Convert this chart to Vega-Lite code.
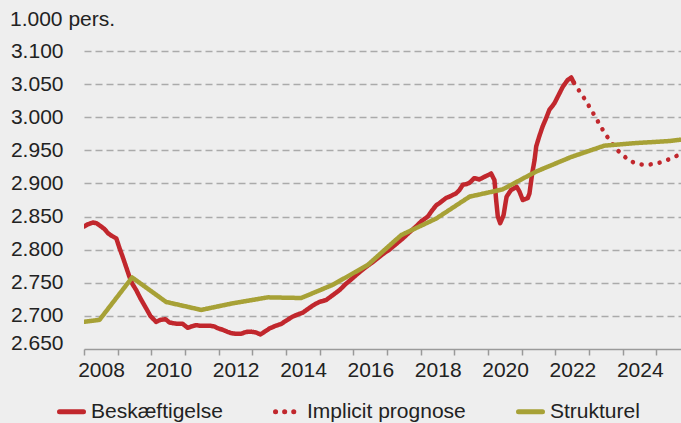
{
  "$schema": "https://vega.github.io/schema/vega-lite/v6.json",
  "width": 597,
  "height": 298,
  "autosize": {"type": "none"},
  "padding": {"left": 84, "top": 51, "right": 0, "bottom": 74},
  "background": "#eeeeee",
  "title": {"text": "1.000 pers.", "anchor": "start", "frame": "group", "dx": -74, "dy": 30, "offset": 23, "fontSize": 21, "fontWeight": "normal", "font": "Liberation Sans", "color": "#222222", "baseline": "alphabetic"},
  "config": {
    "view": {"stroke": null},
    "font": "Liberation Sans",
    "legend": {
      "orient": "none", "direction": "horizontal", "legendX": -27, "legendY": 346,
      "title": null, "symbolType": "stroke", "symbolSize": 576, "symbolStrokeWidth": 5,
      "labelFontSize": 21, "labelFont": "Liberation Sans", "labelColor": "#222222",
      "labelOffset": 5, "columnPadding": 42, "labelLimit": 300
    }
  },
  "data": {"values": [
    {"year": 2008.00, "value": 2835, "series": "Beskæftigelse"},
    {"year": 2008.10, "value": 2838, "series": "Beskæftigelse"},
    {"year": 2008.26, "value": 2841, "series": "Beskæftigelse"},
    {"year": 2008.37, "value": 2840, "series": "Beskæftigelse"},
    {"year": 2008.51, "value": 2835, "series": "Beskæftigelse"},
    {"year": 2008.61, "value": 2831, "series": "Beskæftigelse"},
    {"year": 2008.71, "value": 2825, "series": "Beskæftigelse"},
    {"year": 2008.82, "value": 2821, "series": "Beskæftigelse"},
    {"year": 2008.96, "value": 2817, "series": "Beskæftigelse"},
    {"year": 2009.05, "value": 2803, "series": "Beskæftigelse"},
    {"year": 2009.15, "value": 2789, "series": "Beskæftigelse"},
    {"year": 2009.25, "value": 2774, "series": "Beskæftigelse"},
    {"year": 2009.35, "value": 2759, "series": "Beskæftigelse"},
    {"year": 2009.44, "value": 2748, "series": "Beskæftigelse"},
    {"year": 2009.55, "value": 2739, "series": "Beskæftigelse"},
    {"year": 2009.68, "value": 2726, "series": "Beskæftigelse"},
    {"year": 2009.85, "value": 2711, "series": "Beskæftigelse"},
    {"year": 2009.97, "value": 2700, "series": "Beskæftigelse"},
    {"year": 2010.14, "value": 2691, "series": "Beskæftigelse"},
    {"year": 2010.27, "value": 2694, "series": "Beskæftigelse"},
    {"year": 2010.42, "value": 2695, "series": "Beskæftigelse"},
    {"year": 2010.54, "value": 2690, "series": "Beskæftigelse"},
    {"year": 2010.64, "value": 2689, "series": "Beskæftigelse"},
    {"year": 2010.78, "value": 2688, "series": "Beskæftigelse"},
    {"year": 2010.93, "value": 2688, "series": "Beskæftigelse"},
    {"year": 2011.08, "value": 2682, "series": "Beskæftigelse"},
    {"year": 2011.19, "value": 2684, "series": "Beskæftigelse"},
    {"year": 2011.33, "value": 2686, "series": "Beskæftigelse"},
    {"year": 2011.46, "value": 2685, "series": "Beskæftigelse"},
    {"year": 2011.63, "value": 2685, "series": "Beskæftigelse"},
    {"year": 2011.76, "value": 2685, "series": "Beskæftigelse"},
    {"year": 2011.87, "value": 2684, "series": "Beskæftigelse"},
    {"year": 2011.99, "value": 2681, "series": "Beskæftigelse"},
    {"year": 2012.12, "value": 2679, "series": "Beskæftigelse"},
    {"year": 2012.26, "value": 2676, "series": "Beskæftigelse"},
    {"year": 2012.37, "value": 2674, "series": "Beskæftigelse"},
    {"year": 2012.50, "value": 2673, "series": "Beskæftigelse"},
    {"year": 2012.67, "value": 2673, "series": "Beskæftigelse"},
    {"year": 2012.77, "value": 2675, "series": "Beskæftigelse"},
    {"year": 2012.86, "value": 2676, "series": "Beskæftigelse"},
    {"year": 2012.97, "value": 2676, "series": "Beskæftigelse"},
    {"year": 2013.11, "value": 2675, "series": "Beskæftigelse"},
    {"year": 2013.24, "value": 2672, "series": "Beskæftigelse"},
    {"year": 2013.36, "value": 2676, "series": "Beskæftigelse"},
    {"year": 2013.51, "value": 2681, "series": "Beskæftigelse"},
    {"year": 2013.69, "value": 2685, "series": "Beskæftigelse"},
    {"year": 2013.86, "value": 2688, "series": "Beskæftigelse"},
    {"year": 2014.01, "value": 2693, "series": "Beskæftigelse"},
    {"year": 2014.20, "value": 2699, "series": "Beskæftigelse"},
    {"year": 2014.34, "value": 2702, "series": "Beskæftigelse"},
    {"year": 2014.50, "value": 2705, "series": "Beskæftigelse"},
    {"year": 2014.61, "value": 2709, "series": "Beskæftigelse"},
    {"year": 2014.75, "value": 2714, "series": "Beskæftigelse"},
    {"year": 2014.87, "value": 2718, "series": "Beskæftigelse"},
    {"year": 2014.99, "value": 2721, "series": "Beskæftigelse"},
    {"year": 2015.19, "value": 2724, "series": "Beskæftigelse"},
    {"year": 2015.38, "value": 2731, "series": "Beskæftigelse"},
    {"year": 2015.59, "value": 2739, "series": "Beskæftigelse"},
    {"year": 2015.77, "value": 2748, "series": "Beskæftigelse"},
    {"year": 2015.98, "value": 2757, "series": "Beskæftigelse"},
    {"year": 2016.18, "value": 2766, "series": "Beskæftigelse"},
    {"year": 2016.38, "value": 2774, "series": "Beskæftigelse"},
    {"year": 2016.57, "value": 2781, "series": "Beskæftigelse"},
    {"year": 2016.77, "value": 2789, "series": "Beskæftigelse"},
    {"year": 2016.92, "value": 2795, "series": "Beskæftigelse"},
    {"year": 2017.07, "value": 2800, "series": "Beskæftigelse"},
    {"year": 2017.28, "value": 2809, "series": "Beskæftigelse"},
    {"year": 2017.47, "value": 2817, "series": "Beskæftigelse"},
    {"year": 2017.66, "value": 2826, "series": "Beskæftigelse"},
    {"year": 2017.86, "value": 2835, "series": "Beskæftigelse"},
    {"year": 2018.02, "value": 2843, "series": "Beskæftigelse"},
    {"year": 2018.21, "value": 2850, "series": "Beskæftigelse"},
    {"year": 2018.35, "value": 2860, "series": "Beskæftigelse"},
    {"year": 2018.46, "value": 2867, "series": "Beskæftigelse"},
    {"year": 2018.55, "value": 2870, "series": "Beskæftigelse"},
    {"year": 2018.75, "value": 2878, "series": "Beskæftigelse"},
    {"year": 2018.85, "value": 2880, "series": "Beskæftigelse"},
    {"year": 2019.05, "value": 2885, "series": "Beskæftigelse"},
    {"year": 2019.15, "value": 2890, "series": "Beskæftigelse"},
    {"year": 2019.25, "value": 2898, "series": "Beskæftigelse"},
    {"year": 2019.36, "value": 2899, "series": "Beskæftigelse"},
    {"year": 2019.45, "value": 2901, "series": "Beskæftigelse"},
    {"year": 2019.59, "value": 2908, "series": "Beskæftigelse"},
    {"year": 2019.74, "value": 2906, "series": "Beskæftigelse"},
    {"year": 2019.89, "value": 2910, "series": "Beskæftigelse"},
    {"year": 2019.98, "value": 2912, "series": "Beskæftigelse"},
    {"year": 2020.09, "value": 2915, "series": "Beskæftigelse"},
    {"year": 2020.19, "value": 2905, "series": "Beskæftigelse"},
    {"year": 2020.24, "value": 2875, "series": "Beskæftigelse"},
    {"year": 2020.29, "value": 2850, "series": "Beskæftigelse"},
    {"year": 2020.36, "value": 2840, "series": "Beskæftigelse"},
    {"year": 2020.46, "value": 2852, "series": "Beskæftigelse"},
    {"year": 2020.55, "value": 2880, "series": "Beskæftigelse"},
    {"year": 2020.68, "value": 2890, "series": "Beskæftigelse"},
    {"year": 2020.85, "value": 2895, "series": "Beskæftigelse"},
    {"year": 2020.93, "value": 2888, "series": "Beskæftigelse"},
    {"year": 2021.03, "value": 2875, "series": "Beskæftigelse"},
    {"year": 2021.18, "value": 2878, "series": "Beskæftigelse"},
    {"year": 2021.23, "value": 2885, "series": "Beskæftigelse"},
    {"year": 2021.31, "value": 2915, "series": "Beskæftigelse"},
    {"year": 2021.38, "value": 2935, "series": "Beskæftigelse"},
    {"year": 2021.43, "value": 2956, "series": "Beskæftigelse"},
    {"year": 2021.52, "value": 2971, "series": "Beskæftigelse"},
    {"year": 2021.62, "value": 2986, "series": "Beskæftigelse"},
    {"year": 2021.72, "value": 2998, "series": "Beskæftigelse"},
    {"year": 2021.82, "value": 3011, "series": "Beskæftigelse"},
    {"year": 2021.97, "value": 3021, "series": "Beskæftigelse"},
    {"year": 2022.12, "value": 3036, "series": "Beskæftigelse"},
    {"year": 2022.22, "value": 3046, "series": "Beskæftigelse"},
    {"year": 2022.36, "value": 3056, "series": "Beskæftigelse"},
    {"year": 2022.47, "value": 3060, "series": "Beskæftigelse"},
    {"year": 2022.55, "value": 3052, "series": "Beskæftigelse"},
    {"year": 2022.55, "value": 3052, "series": "Implicit prognose"},
    {"year": 2022.73, "value": 3038, "series": "Implicit prognose"},
    {"year": 2022.89, "value": 3026, "series": "Implicit prognose"},
    {"year": 2023.18, "value": 3001, "series": "Implicit prognose"},
    {"year": 2023.45, "value": 2977, "series": "Implicit prognose"},
    {"year": 2023.78, "value": 2953, "series": "Implicit prognose"},
    {"year": 2024.20, "value": 2934, "series": "Implicit prognose"},
    {"year": 2024.49, "value": 2929, "series": "Implicit prognose"},
    {"year": 2024.72, "value": 2928, "series": "Implicit prognose"},
    {"year": 2025.00, "value": 2930, "series": "Implicit prognose"},
    {"year": 2025.26, "value": 2934, "series": "Implicit prognose"},
    {"year": 2025.53, "value": 2940, "series": "Implicit prognose"},
    {"year": 2025.71, "value": 2944, "series": "Implicit prognose"},
    {"year": 2008.00, "value": 2691, "series": "Strukturel"},
    {"year": 2008.46, "value": 2694, "series": "Strukturel"},
    {"year": 2009.43, "value": 2758, "series": "Strukturel"},
    {"year": 2010.44, "value": 2721, "series": "Strukturel"},
    {"year": 2011.48, "value": 2709, "series": "Strukturel"},
    {"year": 2012.42, "value": 2719, "series": "Strukturel"},
    {"year": 2013.46, "value": 2728, "series": "Strukturel"},
    {"year": 2014.45, "value": 2727, "series": "Strukturel"},
    {"year": 2015.39, "value": 2747, "series": "Strukturel"},
    {"year": 2016.43, "value": 2777, "series": "Strukturel"},
    {"year": 2017.42, "value": 2822, "series": "Strukturel"},
    {"year": 2018.46, "value": 2847, "series": "Strukturel"},
    {"year": 2019.45, "value": 2880, "series": "Strukturel"},
    {"year": 2020.43, "value": 2891, "series": "Strukturel"},
    {"year": 2021.43, "value": 2918, "series": "Strukturel"},
    {"year": 2022.47, "value": 2940, "series": "Strukturel"},
    {"year": 2023.45, "value": 2957, "series": "Strukturel"},
    {"year": 2024.40, "value": 2961, "series": "Strukturel"},
    {"year": 2025.38, "value": 2964, "series": "Strukturel"},
    {"year": 2025.71, "value": 2966, "series": "Strukturel"}
  ]},
  "mark": {"type": "line", "strokeWidth": 4.5, "strokeCap": "round", "strokeJoin": "round", "clip": true},
  "encoding": {
    "x": {
      "field": "year", "type": "quantitative",
      "scale": {"domain": [2008, 2025.73], "nice": false, "zero": false},
      "axis": {
        "title": null,
        "values": [2008, 2009, 2010, 2011, 2012, 2013, 2014, 2015, 2016, 2017, 2018, 2019, 2020, 2021, 2022, 2023, 2024, 2025],
        "labelExpr": "datum.value % 2 == 0 ? toString(datum.value) : ''",
        "labelOffset": 17, "labelFlush": false, "labelOverlap": false, "labelBound": false,
        "grid": false, "domainColor": "#9a9a9a", "domainWidth": 1.5,
        "tickColor": "#9a9a9a", "tickWidth": 1.5, "tickSize": 6,
        "labelFontSize": 21, "labelColor": "#222222", "labelPadding": 4, "labelFont": "Liberation Sans"
      }
    },
    "y": {
      "field": "value", "type": "quantitative",
      "scale": {"domain": [2650, 3100], "nice": false, "zero": false},
      "axis": {
        "title": null,
        "values": [2650, 2700, 2750, 2800, 2850, 2900, 2950, 3000, 3050, 3100],
        "labelExpr": "replace(format(datum.value, ','), ',', '.')",
        "domain": false, "ticks": false, "labelPadding": 21,
        "labelFontSize": 21, "labelColor": "#222222", "labelFont": "Liberation Sans",
        "labelBaseline": {"condition": {"test": "datum.value == 2650", "value": "alphabetic"}, "value": "middle"},
        "grid": true, "gridDash": [7, 4], "gridColor": "#aaaaaa", "gridWidth": 1.5,
        "gridOpacity": {"condition": {"test": "datum.value == 2650", "value": 0}, "value": 1},
        "labelFlush": false
      }
    },
    "color": {
      "field": "series", "type": "nominal",
      "scale": {"domain": ["Beskæftigelse", "Implicit prognose", "Strukturel"], "range": ["#c1272d", "#c1272d", "#a7a136"]},
      "legend": {"encode": {"symbols": {"update": {"strokeCap": {"value": "round"}}}}}
    },
    "strokeDash": {
      "field": "series", "type": "nominal",
      "scale": {"domain": ["Beskæftigelse", "Implicit prognose", "Strukturel"], "range": [[1, 0], [0.1, 9], [1, 0]]},
      "legend": {"encode": {"symbols": {"update": {"strokeCap": {"value": "round"}}}}}
    }
  }
}
